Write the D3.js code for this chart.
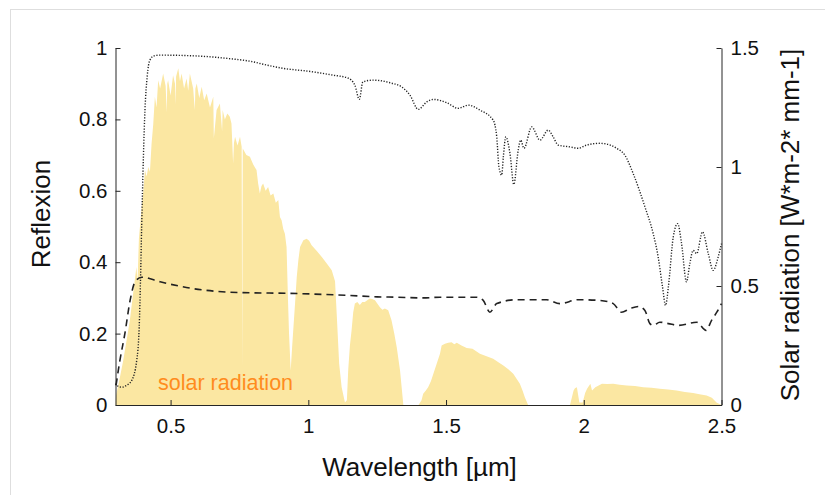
<!DOCTYPE html>
<html>
<head>
<meta charset="utf-8">
<script src="https://cdn.jsdelivr.net/npm/d3@7"></script>
<style>
  body { margin: 0; background: #fff; }
  text { font-family: "Liberation Sans", Arial, sans-serif; }
</style>
</head>
<body>
<div id="chart"></div>
<script>
// x ticks and tick labels
const xTicks = [0.5, 1, 1.5, 2, 2.5];
const xTickLabels = ["0.5", "1", "1.5", "2", "2.5"];
const leftTicks = [0, 0.2, 0.4, 0.6, 0.8, 1];
const leftTickLabels = ["0", "0.2", "0.4", "0.6", "0.8", "1"];
const rightTicks = [0, 0.5, 1, 1.5];
const rightTickLabels = ["0", "0.5", "1", "1.5"];

// solar radiation spectrum [wavelength µm, W*m-2*nm-1] (right axis)
const solarWl = [0.300, 0.302, 0.315, 0.328, 0.340, 0.352, 0.364, 0.376, 0.380, 0.385, 0.395, 0.401, 0.407,
  0.413, 0.419, 0.425, 0.431, 0.437, 0.443, 0.449, 0.455, 0.462, 0.473, 0.482, 0.486, 0.488, 0.491, 0.500,
  0.509, 0.516, 0.518, 0.520, 0.528, 0.534, 0.540, 0.549, 0.558, 0.564, 0.570, 0.582, 0.588, 0.590, 0.595,
  0.604, 0.613, 0.622, 0.631, 0.643, 0.655, 0.657, 0.667, 0.679, 0.687, 0.689, 0.697, 0.706, 0.715, 0.721,
  0.727, 0.730, 0.734, 0.743, 0.752, 0.758, 0.760, 0.762, 0.775, 0.788, 0.800, 0.812, 0.818, 0.824, 0.830,
  0.836, 0.845, 0.854, 0.863, 0.873, 0.882, 0.891, 0.897, 0.903, 0.909, 0.915, 0.921, 0.926, 0.930, 0.936,
  0.941, 0.946, 0.952, 0.958, 0.964, 0.970, 0.982, 0.994, 1.003, 1.012, 1.030, 1.049, 1.067, 1.085, 1.097,
  1.103, 1.112, 1.121, 1.133, 1.140, 1.145, 1.151, 1.157, 1.163, 1.169, 1.178, 1.187, 1.196, 1.205, 1.214,
  1.223, 1.232, 1.242, 1.251, 1.260, 1.269, 1.278, 1.290, 1.302, 1.312, 1.321, 1.333, 1.345, 1.400, 1.411,
  1.417, 1.426, 1.435, 1.445, 1.454, 1.466, 1.478, 1.484, 1.496, 1.508, 1.520, 1.530, 1.539, 1.556, 1.575,
  1.596, 1.623, 1.647, 1.671, 1.690, 1.708, 1.726, 1.744, 1.756, 1.768, 1.778, 1.786, 1.798, 1.950, 1.963,
  1.968, 1.975, 1.984, 1.996, 2.005, 2.012, 2.024, 2.030, 2.042, 2.066, 2.085, 2.107, 2.130, 2.156, 2.186,
  2.216, 2.246, 2.276, 2.306, 2.337, 2.367, 2.397, 2.420, 2.446, 2.465, 2.482, 2.500];
const solarVal = [0.000, 0.040, 0.110, 0.187, 0.270, 0.355, 0.470, 0.580, 0.520, 0.700, 0.832, 0.900, 0.987,
  0.960, 1.000, 0.980, 1.099, 1.180, 1.295, 1.250, 1.365, 1.330, 1.393, 1.340, 1.230, 1.350, 1.365, 1.300,
  1.386, 1.350, 1.260, 1.380, 1.415, 1.360, 1.393, 1.330, 1.372, 1.320, 1.393, 1.330, 1.240, 1.330, 1.351,
  1.290, 1.337, 1.280, 1.309, 1.250, 1.295, 1.120, 1.240, 1.267, 1.150, 1.239, 1.200, 1.225, 1.211, 1.183,
  1.015, 1.100, 1.127, 1.090, 1.127, 1.085, 0.150, 1.078, 1.050, 1.043, 1.010, 0.987, 0.930, 0.889, 0.920,
  0.931, 0.900, 0.916, 0.880, 0.889, 0.850, 0.861, 0.790, 0.776, 0.740, 0.720, 0.664, 0.450, 0.300, 0.145,
  0.240, 0.327, 0.430, 0.538, 0.610, 0.664, 0.692, 0.699, 0.690, 0.671, 0.648, 0.622, 0.595, 0.566, 0.520,
  0.384, 0.173, 0.075, 0.010, 0.020, 0.150, 0.250, 0.313, 0.390, 0.426, 0.433, 0.420, 0.433, 0.433, 0.440,
  0.447, 0.445, 0.440, 0.425, 0.411, 0.400, 0.405, 0.398, 0.356, 0.300, 0.243, 0.145, 0.000, 0.000, 0.020,
  0.047, 0.060, 0.075, 0.100, 0.131, 0.173, 0.215, 0.250, 0.257, 0.262, 0.264, 0.255, 0.262, 0.250, 0.240,
  0.236, 0.215, 0.205, 0.194, 0.180, 0.166, 0.150, 0.131, 0.110, 0.089, 0.060, 0.033, 0.000, 0.000, 0.061,
  0.070, 0.075, 0.010, 0.010, 0.050, 0.068, 0.089, 0.061, 0.075, 0.089, 0.088, 0.089, 0.085, 0.082, 0.080,
  0.075, 0.072, 0.068, 0.065, 0.061, 0.055, 0.050, 0.045, 0.040, 0.030, 0.010, 0.000];

// reflexion, dotted curve (left axis)
const dotWl = [0.300, 0.304, 0.3225, 0.340, 0.359, 0.377, 0.386, 0.391, 0.395, 0.401, 0.407, 0.415, 0.425,
  0.440, 0.462, 0.550, 0.650, 0.716, 0.788, 0.850, 0.908, 1.000, 1.089, 1.143, 1.169, 1.185, 1.198, 1.235,
  1.300, 1.339, 1.369, 1.399, 1.430, 1.454, 1.502, 1.544, 1.581, 1.623, 1.671, 1.684, 1.692, 1.702, 1.708,
  1.717, 1.732, 1.746, 1.762, 1.771, 1.783, 1.811, 1.841, 1.871, 1.889, 1.907, 1.950, 1.980, 2.010, 2.059,
  2.083, 2.119, 2.149, 2.179, 2.222, 2.252, 2.270, 2.286, 2.297, 2.307, 2.325, 2.341, 2.355, 2.373, 2.385,
  2.397, 2.410, 2.431, 2.452, 2.470, 2.488, 2.500];
const dotVal = [0.060, 0.055, 0.050, 0.055, 0.069, 0.125, 0.218, 0.358, 0.500, 0.686, 0.826, 0.920, 0.966,
  0.978, 0.980, 0.979, 0.975, 0.970, 0.963, 0.952, 0.943, 0.935, 0.924, 0.916, 0.896, 0.856, 0.905, 0.910,
  0.902, 0.891, 0.868, 0.828, 0.849, 0.856, 0.847, 0.831, 0.840, 0.826, 0.798, 0.751, 0.667, 0.644, 0.695,
  0.751, 0.705, 0.618, 0.714, 0.742, 0.719, 0.779, 0.742, 0.770, 0.751, 0.728, 0.723, 0.719, 0.728, 0.733,
  0.731, 0.719, 0.700, 0.649, 0.555, 0.480, 0.415, 0.330, 0.279, 0.330, 0.471, 0.508, 0.452, 0.345, 0.396,
  0.433, 0.424, 0.485, 0.424, 0.377, 0.415, 0.452];

// reflexion, dashed curve (left axis)
const dashWl = [0.302, 0.316, 0.334, 0.353, 0.371, 0.395, 0.462, 0.582, 0.716, 0.970, 1.144, 1.250, 1.321,
  1.417, 1.478, 1.611, 1.635, 1.659, 1.684, 1.756, 1.865, 1.913, 1.980, 2.059, 2.107, 2.137, 2.168, 2.198,
  2.222, 2.240, 2.252, 2.276, 2.307, 2.344, 2.410, 2.444, 2.464, 2.483, 2.500];
const dashVal = [0.055, 0.125, 0.200, 0.293, 0.345, 0.358, 0.345, 0.326, 0.316, 0.312, 0.307, 0.303, 0.302,
  0.300, 0.302, 0.302, 0.293, 0.260, 0.284, 0.295, 0.295, 0.284, 0.295, 0.293, 0.284, 0.260, 0.270, 0.276,
  0.265, 0.228, 0.223, 0.232, 0.228, 0.223, 0.232, 0.209, 0.237, 0.260, 0.284];

const W = 825, H = 495;
const margin = { top: 48, right: 103.5, bottom: 90, left: 115.5 };

const svg = d3.select("#chart").append("svg")
  .attr("width", W)
  .attr("height", H);

// light figure border
svg.append("rect")
  .attr("x", 10.5).attr("y", 9.5)
  .attr("width", 830).attr("height", 500)
  .attr("fill", "none")
  .attr("stroke", "#dedede");

const x = d3.scaleLinear()
  .domain([0.3, 2.5])
  .range([margin.left, W - margin.right]);

const yL = d3.scaleLinear()
  .domain([0, 1])
  .range([H - margin.bottom, margin.top]);

const yR = d3.scaleLinear()
  .domain([0, 1.5])
  .range([H - margin.bottom, margin.top]);

const solar = solarWl.map((w, i) => ({ w, v: solarVal[i] }));
const dotted = dotWl.map((w, i) => ({ w, v: dotVal[i] }));
const dashed = dashWl.map((w, i) => ({ w, v: dashVal[i] }));

// solar radiation area
svg.append("path")
  .datum(solar)
  .attr("fill", "#fbe7a2")
  .attr("d", d3.area()
    .x(d => x(d.w))
    .y0(yR(0))
    .y1(d => yR(d.v)));

svg.append("text")
  .attr("x", 158)
  .attr("y", 390)
  .attr("font-size", 21.5)
  .attr("fill", "#ff8c1e")
  .text("solar radiation");

const line = d3.line()
  .x(d => x(d.w))
  .y(d => yL(d.v))
  .curve(d3.curveMonotoneX);

svg.append("path")
  .datum(dotted)
  .attr("fill", "none")
  .attr("stroke", "#222")
  .attr("stroke-width", 1.4)
  .attr("stroke-dasharray", "1.2,1.6")
  .attr("d", line);

svg.append("path")
  .datum(dashed)
  .attr("fill", "none")
  .attr("stroke", "#222")
  .attr("stroke-width", 1.6)
  .attr("stroke-dasharray", "7,5")
  .attr("d", line);

// axes, ticks pointing inward
const styleAxis = g => {
  g.selectAll("path.domain").attr("stroke", "#262626");
  g.selectAll(".tick line").attr("stroke", "#262626");
  g.selectAll(".tick text")
    .attr("fill", "#111")
    .attr("font-size", 20.5)
    .attr("font-family", "Liberation Sans, Arial, sans-serif");
};

svg.append("g")
  .attr("transform", `translate(0,${H - margin.bottom})`)
  .call(d3.axisBottom(x).tickValues(xTicks)
    .tickFormat((d, i) => xTickLabels[i])
    .tickSizeInner(-5).tickSizeOuter(0).tickPadding(13))
  .call(styleAxis);

svg.append("g")
  .attr("transform", `translate(${margin.left},0)`)
  .call(d3.axisLeft(yL).tickValues(leftTicks)
    .tickFormat((d, i) => leftTickLabels[i])
    .tickSizeInner(-5).tickSizeOuter(0).tickPadding(8))
  .call(styleAxis);

svg.append("g")
  .attr("transform", `translate(${W - margin.right},0)`)
  .call(d3.axisRight(yR).tickValues(rightTicks)
    .tickFormat((d, i) => rightTickLabels[i])
    .tickSizeInner(-5).tickSizeOuter(0).tickPadding(9))
  .call(styleAxis);

// axis titles
svg.append("text")
  .attr("x", (x.range()[0] + x.range()[1]) / 2 + 1)
  .attr("y", 476)
  .attr("text-anchor", "middle")
  .attr("font-size", 26)
  .attr("fill", "#111")
  .text("Wavelength [µm]");

svg.append("text")
  .attr("transform", "translate(50,214) rotate(-90)")
  .attr("text-anchor", "middle")
  .attr("font-size", 26)
  .attr("fill", "#111")
  .text("Reflexion");

svg.append("text")
  .attr("transform", "translate(799,225) rotate(-90)")
  .attr("text-anchor", "middle")
  .attr("font-size", 26)
  .attr("fill", "#111")
  .text("Solar radiation [W*m-2* mm-1]");
</script>
</body>
</html>
